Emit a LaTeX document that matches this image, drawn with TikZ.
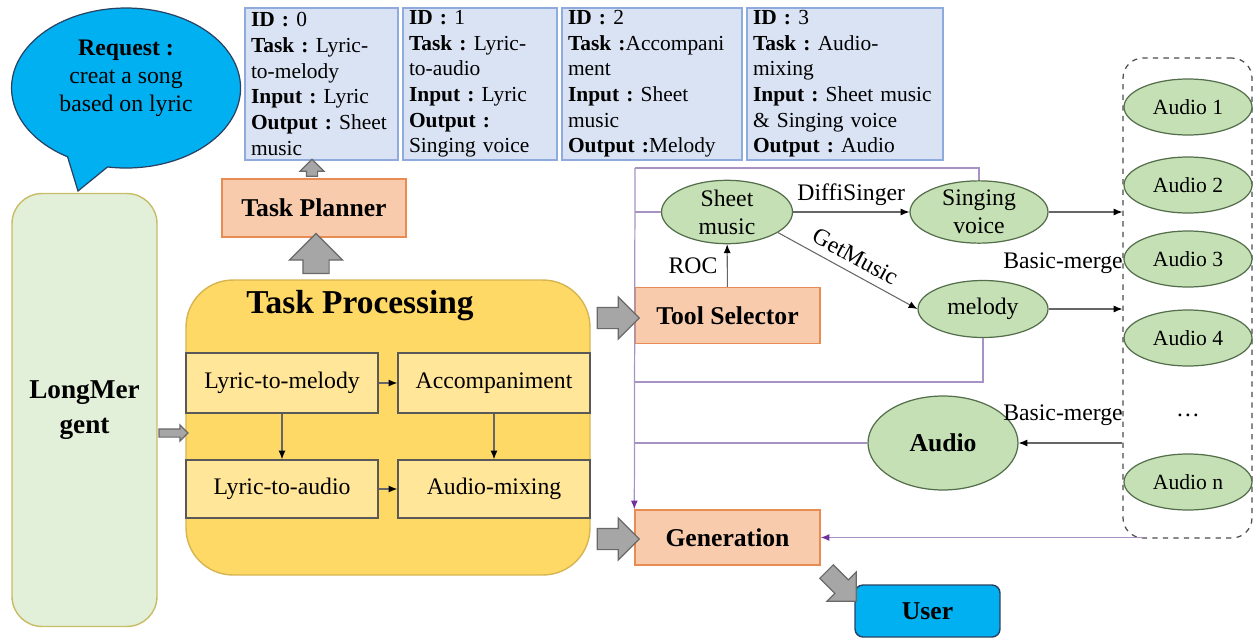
\documentclass[tikz,border=0pt]{standalone}
\usepackage{fontspec}
\setmainfont{Liberation Serif}
\usepackage{xcolor}
\usepackage{tikz}
\usetikzlibrary{arrows.meta,positioning,shapes.geometric,shapes.arrows}
\frenchspacing

\definecolor{infofill}{RGB}{218,227,243}
\definecolor{infoline}{RGB}{143,170,220}
\definecolor{peachfill}{RGB}{248,203,173}
\definecolor{peachline}{RGB}{232,140,84}
\definecolor{leaffill}{RGB}{197,224,180}
\definecolor{leafline}{RGB}{84,110,76}
\definecolor{mintfill}{RGB}{226,239,217}
\definecolor{mintline}{RGB}{200,188,100}
\definecolor{goldfill}{RGB}{255,217,102}
\definecolor{goldline}{RGB}{214,180,80}
\definecolor{strawfill}{RGB}{255,230,153}
\definecolor{skyfill}{RGB}{0,176,240}
\definecolor{navyline}{RGB}{40,66,100}
\definecolor{blockfill}{RGB}{166,166,166}
\definecolor{blockline}{RGB}{105,105,105}
\definecolor{feedline}{RGB}{168,146,196}
\definecolor{feedtip}{RGB}{112,48,160}

\begin{document}
\begin{tikzpicture}[x=0.02cm,y=-0.02cm,
    bodytxt/.style={font=\fontsize{13.5}{16}\selectfont},
    headtxt/.style={font=\fontsize{14.6}{17}\selectfont\bfseries},
    infobox/.style={draw=infoline, fill=infofill, line width=0.8pt, align=left,
        inner xsep=0.12cm, inner ysep=0pt, minimum height=3.04cm,
        font=\fontsize{12.2}{14.6}\selectfont\frenchspacing},
    peachbox/.style={draw=peachline, fill=peachfill, line width=0.8pt, headtxt},
    stepbox/.style={draw=black!65, fill=strawfill, line width=0.8pt, bodytxt,
        minimum width=3.84cm, minimum height=1.2cm},
    leafnode/.style={ellipse, draw=leafline, fill=leaffill, line width=0.7pt,
        bodytxt, inner sep=0pt, align=center},
    audnode/.style={leafnode, minimum width=2.56cm, minimum height=1.12cm,
        font=\fontsize{12.3}{14}\selectfont},
    blockarr/.style 2 args={single arrow, draw=blockline, fill=blockfill,
        line width=0.7pt, inner xsep=0pt, inner ysep=#1,
        single arrow head extend=#2},
    link/.style={draw=black!60, line width=0.6pt,
        -{Latex[length=5pt,width=4pt,color=black]}},
    feed/.style={draw=feedline, line width=0.7pt},
    feedarr/.style={feed, -{Latex[length=5pt,width=4pt,color=feedtip]}}
]
    \useasboundingbox (0,0) rectangle (1254,639);

    % request bubble and agent
    \path[draw=navyline, fill=skyfill, line width=0.7pt]
        (67.6,156.8) arc[start angle=120.7, end angle=459.3,
            x radius=114.5, y radius=80] -- (78,191) -- cycle;
    \node[bodytxt, align=center] (request) at (126,78)
        {\textbf{Request :}\\creat a song\\based on lyric};
    \node[draw=mintline, fill=mintfill, line width=0.8pt, rounded corners=0.6cm,
        minimum width=2.9cm, minimum height=8.66cm, align=center,
        font=\fontsize{15.5}{20}\selectfont\bfseries] (agent) at (84.5,410)
        {LongMer\\gent};

    % task processing
    \node[draw=goldline, fill=goldfill, line width=0.8pt, rounded corners=0.94cm,
        minimum width=8.08cm, minimum height=5.9cm] (proc) at (388,427.5) {};
    \node[font=\fontsize{19}{21}\selectfont\bfseries] (proctitle) at (360,306)
        {Task Processing};
    \node[stepbox] (ltm) at (282,383) {Lyric-to-melody};
    \node[stepbox] (acc) at (494,383) {Accompaniment};
    \node[stepbox, minimum height=1.16cm] (lta) at (282,489) {Lyric-to-audio};
    \node[stepbox, minimum height=1.16cm] (mix) at (494,489) {Audio-mixing};
    \draw[link] (ltm) -- (acc);
    \draw[link] (lta) -- (mix);
    \draw[link] (ltm) -- (lta);
    \draw[link] (acc) -- (mix);

    % planner and sub-tasks
    \node[peachbox, minimum width=3.68cm, minimum height=1.16cm] (planner)
        at (314,208) {Task Planner};
    \node[infobox, text width=2.82cm] (info0) at (321.5,84)
        {\textbf{ID :} 0\\\textbf{Task :} Lyric-\\to-melody\\\textbf{Input :} Lyric\\
         \textbf{Output :} Sheet\\music};
    \node[infobox, text width=2.84cm] (info1) at (480,84)
        {\textbf{ID :} 1\\\textbf{Task :} Lyric-\\to-audio\\\textbf{Input :} Lyric\\
         \textbf{Output :}\\Singing voice};
    \node[infobox, text width=3.36cm] (info2) at (652,84)
        {\textbf{ID :} 2\\\textbf{Task :}Accompani\\ment\\\textbf{Input :} Sheet\\
         music\\\textbf{Output :}Melody};
    \node[infobox, text width=3.68cm] (info3) at (845,84)
        {\textbf{ID :} 3\\\textbf{Task :} Audio-\\mixing\\\textbf{Input :} Sheet music\\
         \& Singing voice\\\textbf{Output :} Audio};

    % tools
    \node[peachbox, minimum width=3.7cm, minimum height=1.12cm] (tool)
        at (727.5,315.5) {Tool Selector};
    \node[peachbox, minimum width=3.7cm, minimum height=1.1cm] (gen)
        at (727.5,537.5) {Generation};
    \node[draw=navyline, fill=skyfill, rounded corners=0.16cm, line width=0.8pt,
        minimum width=2.9cm, minimum height=1.04cm, headtxt] (user)
        at (927.5,611) {User};

    \node[leafnode, minimum width=2.62cm, minimum height=1.16cm] (sheet)
        at (727,212) {Sheet\\music};
    \node[leafnode, minimum width=2.76cm, minimum height=1.16cm] (voice)
        at (979,212) {Singing\\voice};
    \node[leafnode, minimum width=2.6cm, minimum height=1.14cm] (melody)
        at (983,309) {melody};
    \node[leafnode, minimum width=3.0cm, minimum height=1.88cm, headtxt] (audio)
        at (943,443) {Audio};

    % audio pool
    \node[draw=black!70, dashed, rounded corners=0.4cm, line width=0.7pt,
        minimum width=2.58cm, minimum height=9.6cm] (pool) at (1187.5,298) {};
    \foreach \k/\y in {1/107,2/185,3/259,4/338}
        \node[audnode] (a\k) at (1188,\y) {Audio \k};
    \node[audnode] (an) at (1188,482) {Audio n};
    \node[bodytxt] (adots) at (1188,415) {\ldots};

    \draw[link] (tool) -- node[bodytxt, left=2pt] (roc) {ROC} (sheet);
    \draw[link] (sheet) -- node[bodytxt, above] (diffi) {DiffiSinger} (voice);
    \draw[link] (sheet.-22) -- node[bodytxt, above=1pt, sloped] (getm) {GetMusic}
        (melody.west);
    \draw[link] (voice.east) -- (voice.east -| pool.west);
    \draw[link] (melody.east) -- (melody.east -| pool.west);
    \draw[link] (pool.west |- audio.east) -- (audio.east);
    \node[bodytxt] (merge1) at (1063,263) {Basic-merge};
    \node[bodytxt] (merge2) at (1063,415) {Basic-merge};

    % feedback lines
    \coordinate (fbend) at (635,168);
    \coordinate (fmid) at (635,382);
    \coordinate (fret) at (1143,537.5);
    \draw[feed] (voice.north) |- (fbend);
    \draw[feed] (sheet.west) -- (sheet.west -| fbend);
    \draw[feed] (melody.south) |- (fmid);
    \draw[feed] (audio.west) -- (audio.west -| fbend);
    \draw[feedarr] (fbend) -- (gen.north west);
    \draw[feedarr] (fret) -- (gen.east);

    % block arrows
    \node[blockarr={0.1cm}{0.13cm}, minimum height=0.34cm, rotate=90]
        (up1) at (312,170.5) {};
    \node[blockarr={0.25cm}{0.27cm}, minimum height=0.8cm, rotate=90]
        (up2) at (316,260) {};
    \node[blockarr={0.07cm}{0.08cm}, minimum height=0.58cm]
        (in1) at (171.5,433) {};
    \node[blockarr={0.2cm}{0.21cm}, minimum height=0.84cm]
        (out1) at (613,318) {};
    \node[blockarr={0.2cm}{0.21cm}, minimum height=0.84cm]
        (out2) at (613,539) {};
    \node[blockarr={0.18cm}{0.22cm}, minimum height=0.84cm, rotate=-45]
        (out3) at (838,583) {};
\end{tikzpicture}
\end{document}
